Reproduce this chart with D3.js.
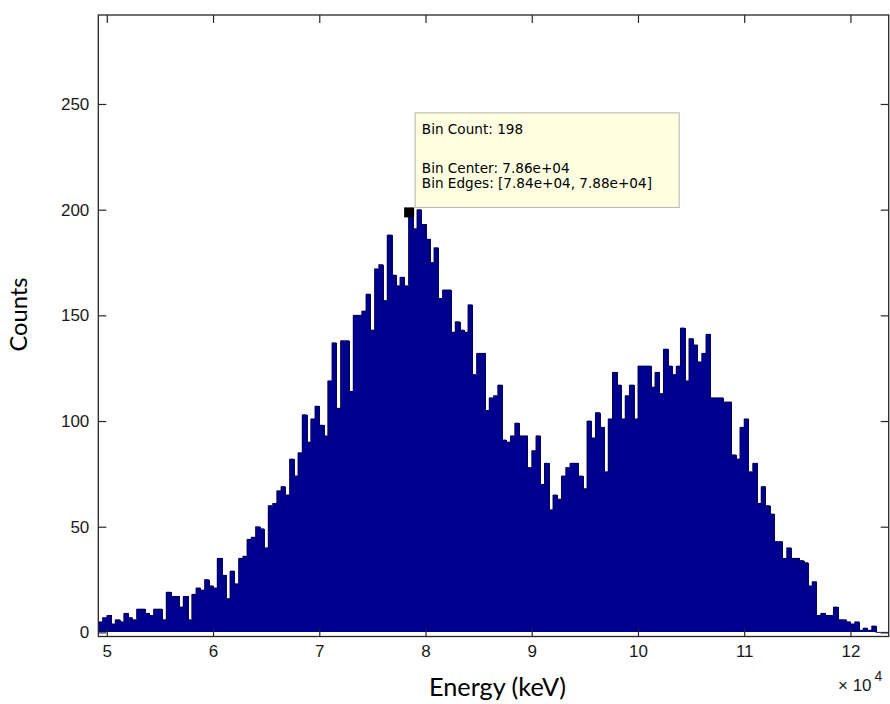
<!DOCTYPE html>
<html>
<head>
<meta charset="utf-8">
<script src="https://cdn.jsdelivr.net/npm/d3@7"></script>
<style>
  html, body { margin: 0; padding: 0; background: #ffffff; }
  svg { display: block; }
</style>
</head>
<body>
<svg id="chart" width="890" height="704"></svg>
<script>
// ---------------- data ----------------
const binStart = 49200;   // left edge of first bin (keV)
const binWidth = 400;     // keV per bin
const counts = [
  5, 7, 8, 4, 6, 5, 9, 7, 6, 11,
  11, 9, 8, 11, 11, 6, 19, 17, 17, 12,
  17, 6, 18, 21, 20, 25, 22, 21, 35, 27,
  16, 29, 23, 35, 36, 44, 45, 50, 49, 40,
  60, 61, 67, 69, 65, 82, 74, 85, 103, 90,
  101, 107, 98, 93, 119, 137, 106, 138, 138, 114,
  150, 150, 152, 160, 143, 172, 174, 157, 188, 169,
  164, 168, 164, 198, 191, 200, 193, 186, 175, 182,
  158, 162, 162, 142, 147, 143, 142, 155, 122, 132,
  132, 105, 111, 112, 117, 91, 90, 93, 99, 93,
  93, 78, 86, 93, 70, 80, 58, 65, 63, 74,
  78, 80, 80, 74, 68, 100, 92, 104, 97, 76,
  101, 123, 117, 101, 112, 117, 101, 126, 126, 126,
  116, 123, 113, 134, 126, 122, 126, 144, 119, 139,
  136, 128, 132, 141, 111, 111, 111, 109, 109, 84,
  82, 97, 101, 76, 80, 61, 69, 60, 56, 43,
  43, 35, 40, 35, 35, 34, 33, 22, 24, 8,
  9, 8, 8, 12, 6, 6, 5, 4, 5, 1,
  2, 1, 3, 0, 0, 0
];
const xDomain = [49200, 123600];
const yDomain = [-1.94, 292.1];
const xTickValues = [50000, 60000, 70000, 80000, 90000, 100000, 110000, 120000];
const xTickLabels = ["5", "6", "7", "8", "9", "10", "11", "12"];
const yTickValues = [0, 50, 100, 150, 200, 250];
const yTickLabels = ["0", "50", "100", "150", "200", "250"];
const xExponentBase = "\u00d7 10";
const xExponent = "4";
const xTitle = "Energy (keV)";
const yTitle = "Counts";
const markerBin = { center: 78600, count: 198 };
const tooltipLines = [
  "Bin Count: 198",
  "",
  "Bin Center: 7.86e+04",
  "Bin Edges: [7.84e+04, 7.88e+04]"
];

// ---------------- layout ----------------
const plot = { left: 98.3, top: 15, right: 888.7, bottom: 636.5 };
const barColor = "#00008e";
const edgeColor = "#000050";
const axisColor = "#262626";

const svg = d3.select("#chart");

const x = d3.scaleLinear().domain(xDomain).range([plot.left, plot.right]);
const y = d3.scaleLinear().domain(yDomain).range([plot.bottom, plot.top]);

const bins = counts.map((c, i) => ({
  x0: binStart + i * binWidth,
  x1: binStart + (i + 1) * binWidth,
  count: c
}));

svg.append("defs").append("clipPath").attr("id", "plotClip")
  .append("rect")
  .attr("x", plot.left).attr("y", plot.top)
  .attr("width", plot.right - plot.left).attr("height", plot.bottom - plot.top);

const g = svg.append("g").attr("clip-path", "url(#plotClip)");

// bars (slight overlap + crisp edges so the histogram reads as a solid mass)
g.selectAll("rect.bar").data(bins).join("rect")
  .attr("class", "bar")
  .attr("x", d => x(d.x0))
  .attr("width", d => x(d.x1) - x(d.x0) + 1)
  .attr("y", d => y(Math.max(d.count, 0)))
  .attr("height", d => y(0) - y(d.count))
  .attr("fill", barColor)
  .attr("shape-rendering", "crispEdges");

// histogram outline (dark edge on top of bars, baseline where count = 0)
const stepPts = bins.map(d => [d.x0, d.count]);
stepPts.push([bins[bins.length - 1].x1, bins[bins.length - 1].count]);
const outline = d3.line()
  .x(d => x(d[0])).y(d => y(d[1]))
  .curve(d3.curveStepAfter);
g.append("path")
  .attr("d", outline(stepPts))
  .attr("fill", "none")
  .attr("stroke", edgeColor)
  .attr("stroke-width", 0.9);

// axes (ticks pointing inward on all four sides)
const tickFont = "'Liberation Sans', Arial, sans-serif";
const tickLen = 8;

const axB = svg.append("g").attr("transform", `translate(0,${plot.bottom})`)
  .call(d3.axisBottom(x).tickValues(xTickValues)
    .tickFormat((d, i) => xTickLabels[i])
    .tickSizeInner(-tickLen).tickSizeOuter(0).tickPadding(8));
const axT = svg.append("g").attr("transform", `translate(0,${plot.top})`)
  .call(d3.axisTop(x).tickValues(xTickValues).tickFormat("")
    .tickSizeInner(-tickLen).tickSizeOuter(0));
const axL = svg.append("g").attr("transform", `translate(${plot.left},0)`)
  .call(d3.axisLeft(y).tickValues(yTickValues)
    .tickFormat((d, i) => yTickLabels[i])
    .tickSizeInner(-tickLen).tickSizeOuter(0).tickPadding(9));
const axR = svg.append("g").attr("transform", `translate(${plot.right},0)`)
  .call(d3.axisRight(y).tickValues(yTickValues).tickFormat("")
    .tickSizeInner(-tickLen).tickSizeOuter(0));

[axB, axT, axL, axR].forEach(a => {
  a.select(".domain").remove();
  a.selectAll(".tick line").attr("stroke", axisColor).attr("stroke-width", 1.2);
  a.selectAll(".tick text")
    .attr("fill", "#1a1a1a")
    .style("font-family", tickFont)
    .style("font-size", "17px");
});

// axes box
svg.append("rect")
  .attr("x", plot.left).attr("y", plot.top)
  .attr("width", plot.right - plot.left).attr("height", plot.bottom - plot.top)
  .attr("fill", "none").attr("stroke", axisColor).attr("stroke-width", 1.3);

// x exponent label
const expG = svg.append("text")
  .attr("x", 838).attr("y", 691)
  .attr("fill", "#1a1a1a")
  .style("font-family", tickFont)
  .style("font-size", "17px");
expG.append("tspan").text(xExponentBase);
expG.append("tspan").attr("dx", 3).attr("dy", -10).style("font-size", "14px").text(xExponent);

// axis titles
const titleFont = "Lato, 'Open Sans', sans-serif";
const xt = svg.append("text")
  .attr("x", 497.5).attr("y", 696)
  .attr("text-anchor", "middle")
  .attr("fill", "#000")
  .style("font-family", titleFont)
  .style("font-size", "20px")
  .text(xTitle);
{
  const w = xt.node().getComputedTextLength();
  xt.style("font-size", (20 * 137 / w).toFixed(2) + "px");
}
const yt = svg.append("text")
  .attr("transform", "translate(27,314.5) rotate(-90)")
  .attr("text-anchor", "middle")
  .attr("fill", "#000")
  .style("font-family", titleFont)
  .style("font-size", "20px")
  .text(yTitle);
{
  const w = yt.node().getComputedTextLength();
  yt.style("font-size", (20 * 74 / w).toFixed(2) + "px");
}

// data tip marker and box
const mx = x(markerBin.center), my = y(markerBin.count);
svg.append("rect")
  .attr("x", mx - 6.5).attr("y", my - 6.5)
  .attr("width", 10).attr("height", 10)
  .attr("fill", "#000");

const tip = { left: mx + 4.5, top: my - 101, width: 264, height: 94.5 };
svg.append("rect")
  .attr("x", tip.left).attr("y", tip.top)
  .attr("width", tip.width).attr("height", tip.height)
  .attr("fill", "#ffffe1")
  .attr("stroke", "#b4b4a4")
  .attr("stroke-width", 1);

const lineBaselines = [21.3, 40.8, 60.6, 75.0];
svg.append("g").selectAll("text").data(tooltipLines).join("text")
  .attr("x", tip.left + 6.7)
  .attr("y", (d, i) => tip.top + lineBaselines[i])
  .attr("fill", "#000")
  .style("font-family", "'DejaVu Sans', sans-serif")
  .style("font-size", "13.6px")
  .text(d => d);
</script>
</body>
</html>
